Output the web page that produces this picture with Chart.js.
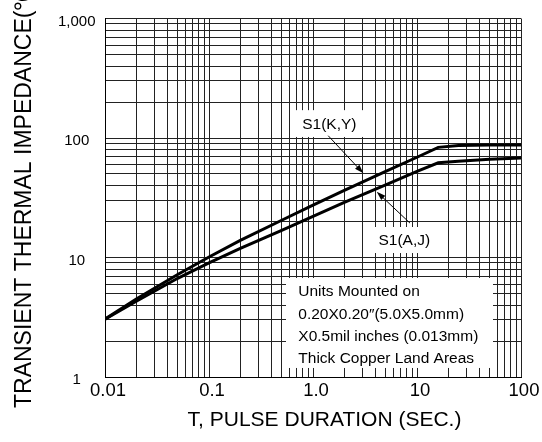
<!DOCTYPE html>
<html>
<head>
<meta charset="utf-8">
<script src="https://cdn.jsdelivr.net/npm/chart.js@4"></script>
<style>
  html, body { margin: 0; padding: 0; background: #fff; }
  #wrap { width: 542px; height: 442px; }
</style>
</head>
<body>
<div id="wrap"><canvas id="thermalChart" width="542" height="442"></canvas></div>
<script>
// pulse duration (sec) and transient thermal impedance
const pulseDuration = [0.01, 0.02, 0.05, 0.1, 0.2, 0.5, 1, 2, 5, 10, 16, 25, 50, 100];
const impedanceKY = [3.05, 4.5, 7.2, 10.1, 13.9, 20.5, 27.4, 36.4, 52.5, 69, 83.5, 86.5, 87.5, 87.5];
const impedanceAJ = [3.05, 4.3, 6.7, 9.0, 11.9, 16.9, 22.1, 28.9, 40.6, 52.5, 62, 64, 66.5, 68];

const xTickValues = [0.01, 0.02, 0.03, 0.04, 0.05, 0.06, 0.07, 0.08, 0.09,
  0.1, 0.2, 0.3, 0.4, 0.5, 0.6, 0.7, 0.8, 0.9,
  1, 2, 3, 4, 5, 6, 7, 8, 9,
  10, 20, 30, 40, 50, 60, 70, 80, 90, 100];
const xTickLabels = ["0.01", "", "", "", "", "", "", "", "",
  "0.1", "", "", "", "", "", "", "", "",
  "1.0", "", "", "", "", "", "", "", "",
  "10", "", "", "", "", "", "", "", "", "100"];
const yTickValues = [1, 2, 3, 4, 5, 6, 7, 8, 9,
  10, 20, 30, 40, 50, 60, 70, 80, 90,
  100, 200, 300, 400, 500, 600, 700, 800, 900, 1000];
const yTickLabels = ["1", "", "", "", "", "", "", "", "",
  "10", "", "", "", "", "", "", "", "",
  "100", "", "", "", "", "", "", "", "", "1,000"];

const noteLines = [
  "Units Mounted on",
  "0.20X0.20\u2033(5.0X5.0mm)",
  "X0.5mil inches (0.013mm)",
  "Thick Copper Land Areas"
];

// annotation boxes and arrows, in data units
const noteBox = { x0: 0.55, x1: 53.8, y0: 1.19, y1: 6.74 };
const kyBox = { x0: 0.624, x1: 3.38, y0: 102, y1: 171 };
const ajBox = { x0: 3.69, x1: 16.6, y0: 10.9, y1: 18.0 };
const kyLabel = { text: "S1(K,Y)", x: 1.435, y: 128.5, from: [1.40, 104.5], to: [3.05, 50.6] };
const ajLabel = { text: "S1(A,J)", x: 7.55, y: 13.7, from: [8.56, 19.4], to: [4.10, 35.5] };

const FONT = '"Liberation Sans", Arial, sans-serif';

function px(chart, x, y) {
  return [chart.scales.x.getPixelForValue(x), chart.scales.y.getPixelForValue(y)];
}

function drawArrow(ctx, x0, y0, x1, y1) {
  const a = Math.atan2(y1 - y0, x1 - x0);
  const c = Math.cos(a), s = Math.sin(a);
  ctx.beginPath();
  ctx.moveTo(x0, y0);
  ctx.lineTo(x1 - 6 * c, y1 - 6 * s);
  ctx.stroke();
  ctx.beginPath();
  ctx.moveTo(x1, y1);
  ctx.lineTo(x1 - 9 * c + 3 * s, y1 - 9 * s - 3 * c);
  ctx.lineTo(x1 - 9 * c - 3 * s, y1 - 9 * s + 3 * c);
  ctx.closePath();
  ctx.fill();
}

const annotations = {
  id: "annotations",
  beforeDatasetsDraw(chart) {
    const ctx = chart.ctx;
    ctx.save();
    ctx.fillStyle = "#fff";
    [noteBox, kyBox, ajBox].forEach(b => {
      const [l, t] = px(chart, b.x0, b.y1);
      const [r, btm] = px(chart, b.x1, b.y0);
      ctx.fillRect(l, t, r - l, btm - t);
    });
    ctx.restore();
  },
  afterDatasetsDraw(chart) {
    const ctx = chart.ctx;
    ctx.save();
    ctx.fillStyle = "#000";
    ctx.strokeStyle = "#000";
    ctx.lineWidth = 1;
    ctx.font = "15.5px " + FONT;
    ctx.textBaseline = "middle";

    [kyLabel, ajLabel].forEach(lb => {
      const [cx, cy] = px(chart, lb.x, lb.y);
      ctx.textAlign = "center";
      ctx.fillText(lb.text, cx, cy);
      const [x0, y0] = px(chart, lb.from[0], lb.from[1]);
      const [x1, y1] = px(chart, lb.to[0], lb.to[1]);
      drawArrow(ctx, x0, y0, x1, y1);
    });

    const [l, t] = px(chart, noteBox.x0, noteBox.y1);
    ctx.textAlign = "left";
    noteLines.forEach((line, i) => {
      ctx.fillText(line, l + 12.3, t + 14.2 + i * 22.2);
    });
    ctx.restore();
  },
  afterDraw(chart) {
    const ctx = chart.ctx;
    ctx.save();
    ctx.fillStyle = "#000";
    ctx.textBaseline = "middle";

    ctx.font = "21px " + FONT;
    ctx.textAlign = "center";
    ctx.fillText("T, PULSE DURATION (SEC.)", 324.5, 420);

    ctx.translate(25, 408);
    ctx.rotate(-Math.PI / 2);
    ctx.font = "23px " + FONT;
    ctx.textAlign = "left";
    ctx.fillText("TRANSIENT THERMAL IMPEDANCE(\u2103/W)", 0, 0);
    ctx.restore();
  }
};

const ctx = document.getElementById("thermalChart").getContext("2d");

new Chart(ctx, {
  type: "line",
  data: {
    datasets: [
      {
        label: "S1(K,Y)",
        data: pulseDuration.map((t, i) => ({ x: t, y: impedanceKY[i] })),
        borderColor: "#000",
        borderWidth: 3,
        pointRadius: 0,
        tension: 0,
        fill: false
      },
      {
        label: "S1(A,J)",
        data: pulseDuration.map((t, i) => ({ x: t, y: impedanceAJ[i] })),
        borderColor: "#000",
        borderWidth: 3,
        pointRadius: 0,
        tension: 0,
        fill: false
      }
    ]
  },
  options: {
    responsive: false,
    animation: false,
    layout: { padding: { top: 18, right: 21, left: 0, bottom: 0 } },
    plugins: {
      legend: { display: false },
      tooltip: { enabled: false }
    },
    scales: {
      x: {
        type: "logarithmic",
        min: 0.01,
        max: 100,
        afterBuildTicks: s => { s.ticks = xTickValues.map(v => ({ value: v })); },
        afterFit: s => { s.height = 65; },
        ticks: {
          callback: (v, i) => xTickLabels[i],
          autoSkip: false,
          maxRotation: 0,
          padding: 3,
          labelOffset: 3,
          color: "#000",
          font: { family: FONT, size: 18.5 }
        },
        grid: { color: "#222", lineWidth: 1, drawTicks: false },
        border: { color: "#000", width: 1 }
      },
      y: {
        type: "logarithmic",
        min: 1,
        max: 1000,
        afterBuildTicks: s => { s.ticks = yTickValues.map(v => ({ value: v })); },
        afterFit: s => { s.width = 105; },
        ticks: {
          callback: (v, i) => yTickLabels[i],
          autoSkip: false,
          crossAlign: "center",
          padding: 9.5,
          labelOffset: 3,
          color: "#000",
          font: { family: FONT, size: 15 }
        },
        grid: { color: "#222", lineWidth: 1, drawTicks: false },
        border: { color: "#000", width: 1 }
      }
    }
  },
  plugins: [annotations]
});
</script>
</body>
</html>
